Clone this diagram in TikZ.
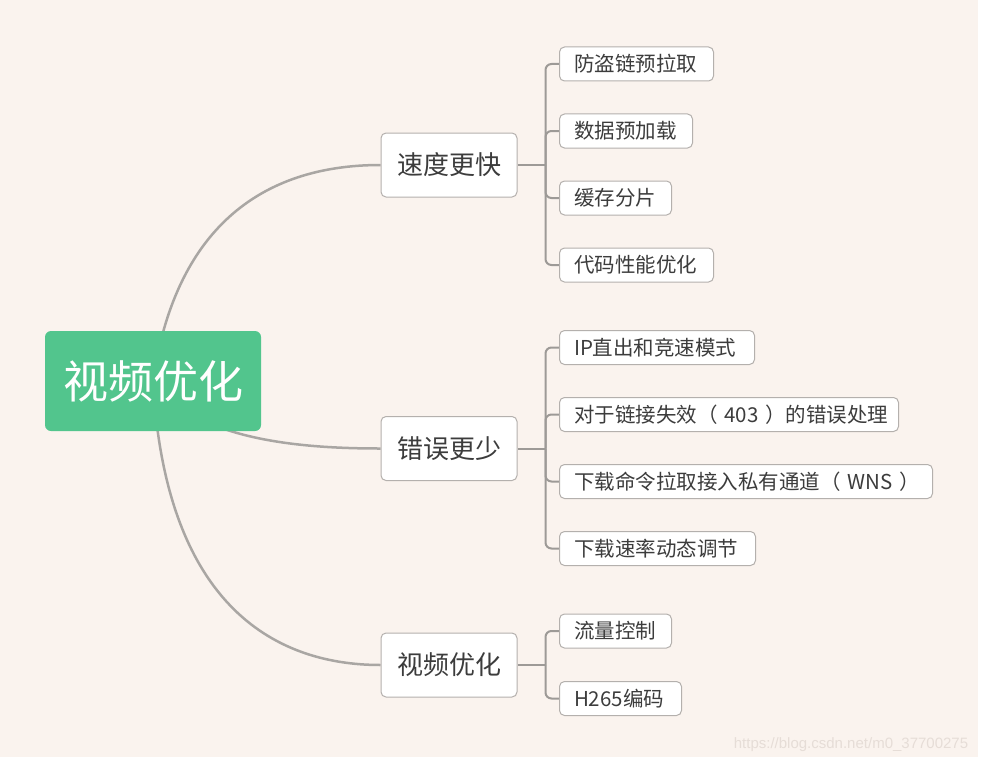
\documentclass[tikz,border=0pt]{standalone}
\usepackage{fontspec}
\setmainfont{Noto Sans CJK SC}
\setsansfont{Liberation Sans}
\usetikzlibrary{positioning}

\definecolor{pagebg}{HTML}{FAF3EE}
\definecolor{rootgreen}{HTML}{52C58D}
\definecolor{boxline}{HTML}{B4B0AD}
\definecolor{textgray}{HTML}{3C3C3C}
\definecolor{curvegray}{HTML}{A9A6A3}
\definecolor{branchgray}{HTML}{9D9A97}
\definecolor{markgray}{HTML}{E6DDD7}

\pgfdeclarelayer{paper}
\pgfdeclarelayer{links}
\pgfsetlayers{paper,links,main}

\tikzset{
  root/.style={fill=rootgreen, rounded corners=6pt, text=white,
    font=\fontsize{45}{45}\selectfont, minimum width=216pt,
    minimum height=100pt, inner sep=0pt},
  topic/.style={draw=boxline, fill=white, rounded corners=5pt, text=textgray,
    font=\fontsize{26}{26}\selectfont, minimum width=136pt,
    minimum height=64pt, inner sep=0pt, line width=1pt},
  leaf/.style={draw=boxline, fill=white, rounded corners=5pt, text=textgray,
    font=\fontsize{20.5}{20.5}\selectfont, minimum height=34pt, anchor=west,
    text width=#1, align=left, inner xsep=14.5pt, inner ysep=0pt, line width=1pt},
  curve/.style={draw=curvegray, line width=2.5pt},
  branch/.style={draw=branchgray, line width=2pt, rounded corners=6pt},
}

\begin{document}
\begin{tikzpicture}[x=1pt,y=-1pt]
  \useasboundingbox (0,0) rectangle (984,765);
  \begin{pgfonlayer}{paper}
    \fill[white] (0,0) rectangle (984,765);
    \fill[pagebg] (0,0) rectangle (978,757);
  \end{pgfonlayer}

  % centre
  \node[root] (root) at (153,381) {视频优化};

  % main topics
  \node[topic] (speed) at (449,165) {速度更快};
  \node[topic] (error) at (449,448.5) {错误更少};
  \node[topic] (video) at (449,665) {视频优化};

  % leaves
  \node[leaf=125pt] (s1) at (559,64) {防盗链预拉取};
  \node[leaf=104pt] (s2) at (559,131) {数据预加载};
  \node[leaf=83pt] (s3) at (559,198) {缓存分片};
  \node[leaf=125pt] (s4) at (559,265) {代码性能优化};

  \node[leaf=166pt] (e1) at (559,347.5) {IP直出和竞速模式};
  \node[leaf=310pt] (e2) at (559,414.5) {\mbox{对于链接失效（~403~）的错误处理}};
  \node[leaf=344pt] (e3) at (559,481.5) {\mbox{下载命令拉取接入私有通道（~WNS~）}};
  \node[leaf=167pt] (e4) at (559,548.5) {下载速率动态调节};

  \node[leaf=83pt] (v1) at (559,631) {流量控制};
  \node[leaf=93pt] (v2) at (559,698.5) {H265编码};

  \begin{pgfonlayer}{links}
    \draw[curve] (root.center) .. controls (175,230) and (260,165) .. (speed.west);
    \draw[curve] (root.center) .. controls (195,440) and (300,448.5) .. (error.west);
    \draw[curve] (root.center) .. controls (165,600) and (270,665) .. (video.west);

    \draw[branch] (speed.east) -- ++(28,0) coordinate (js);
    \draw[branch] (js) |- (s1.west);
    \draw[branch] (js) |- (s2.west);
    \draw[branch] (js) |- (s3.west);
    \draw[branch] (js) |- (s4.west);

    \draw[branch] (error.east) -- ++(28,0) coordinate (je);
    \draw[branch] (je) |- (e1.west);
    \draw[branch] (je) |- (e2.west);
    \draw[branch] (je) |- (e3.west);
    \draw[branch] (je) |- (e4.west);

    \draw[branch] (video.east) -- ++(28,0) coordinate (jv);
    \draw[branch] (jv) |- (v1.west);
    \draw[branch] (jv) |- (v2.west);
  \end{pgfonlayer}

  % watermark
  \node[text=markgray, font=\sffamily\fontsize{15}{15}\selectfont] (mark) at (851,745) {https://blog.csdn.net/m0\_37700275};
\end{tikzpicture}
\end{document}
